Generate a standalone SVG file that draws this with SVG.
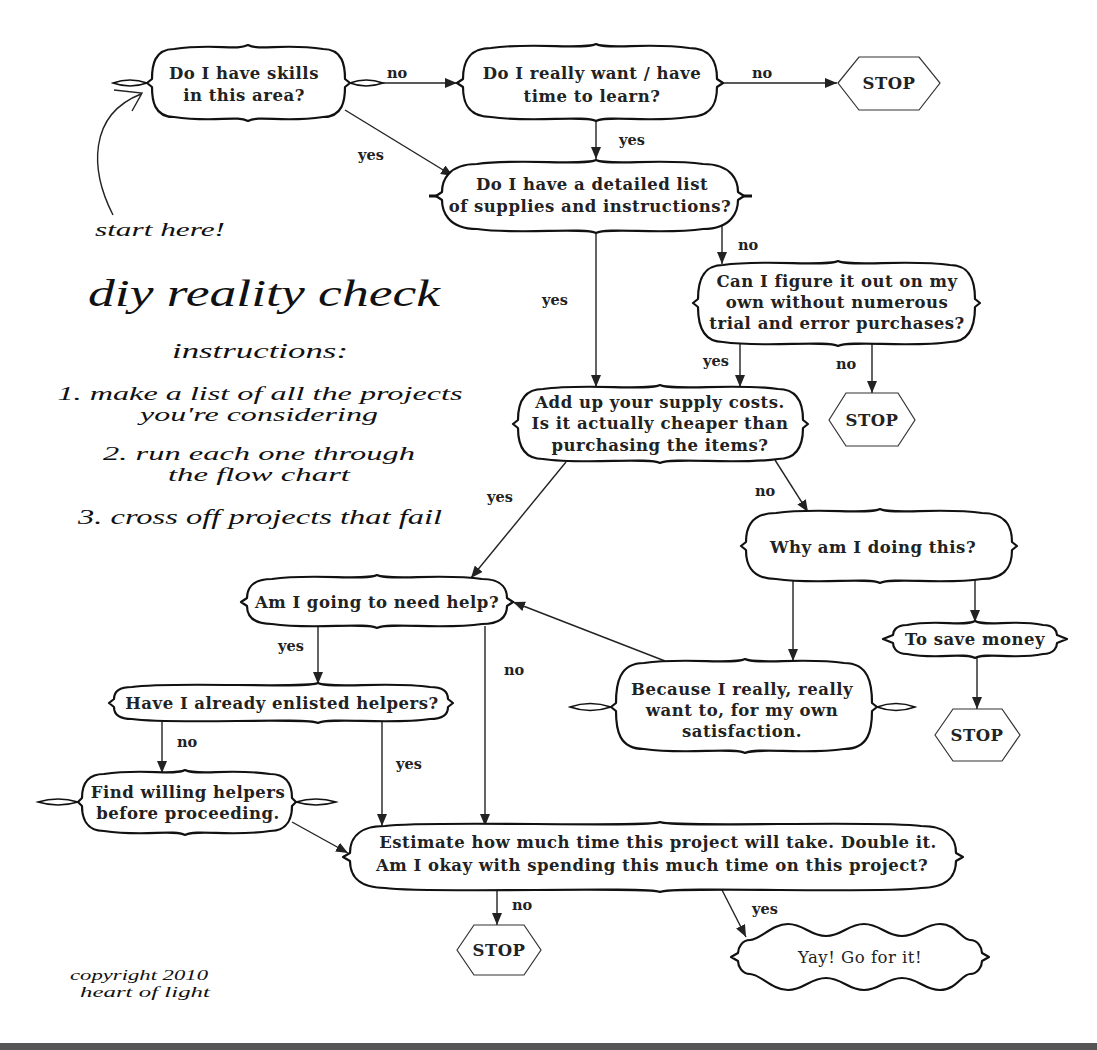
<svg xmlns="http://www.w3.org/2000/svg" width="1097" height="1050" viewBox="0 0 1097 1050">
<defs>
<style>
.node{fill:#fff;stroke:#111;stroke-width:2.2;stroke-linejoin:round}
.orn{fill:#fff;stroke:#111;stroke-width:1.6}
.hex{fill:#fff;stroke:#333;stroke-width:1.2}
.t{font-family:"DejaVu Serif","Liberation Serif",serif;font-size:16.5px;font-weight:bold;letter-spacing:0.5px;fill:#222;text-anchor:middle}
.lbl{font-family:"DejaVu Serif","Liberation Serif",serif;font-size:14.5px;font-weight:bold;fill:#222;text-anchor:middle}
.light{font-weight:normal}
.edge{stroke:#222;stroke-width:1.4;fill:none;marker-end:url(#arr)}
.script{font-family:"Liberation Serif",serif;font-style:italic;fill:#111;text-anchor:middle}
</style>
<marker id="arr" viewBox="0 0 12 10" refX="12" refY="5" markerWidth="12" markerHeight="10" markerUnits="userSpaceOnUse" orient="auto">
<path d="M0,0 L12,5 L0,10 Z" fill="#222"/>
</marker>
</defs>
<rect x="0" y="0" width="1097" height="1050" fill="#fff"/>
<rect x="0" y="1043" width="1097" height="7" fill="#555"/>

<g id="connectors">
<path class="edge" d="M383,83 L457,83"/>
<path class="edge" d="M723,83 L837,83"/>
<path class="edge" d="M596,121 L596,159"/>
<path class="edge" d="M345,110 L453,176"/>
<path class="edge" d="M596,233 L596,387"/>
<path class="edge" d="M722,226 L722,264"/>
<path class="edge" d="M740,342 L740,387"/>
<path class="edge" d="M872,344 L872,393"/>
<path class="edge" d="M566,462 L471,578"/>
<path class="edge" d="M775,460 L808,512"/>
<path class="edge" d="M793,580 L793,661"/>
<path class="edge" d="M975,580 L975,622"/>
<path class="edge" d="M977,656 L977,709"/>
<path class="edge" d="M665,661 L513,602"/>
<path class="edge" d="M318,626 L318,684"/>
<path class="edge" d="M485,626 L485,826"/>
<path class="edge" d="M162,721 L162,773"/>
<path class="edge" d="M382,720 L382,826"/>
<path class="edge" d="M292,822 L348,853"/>
<path class="edge" d="M497,890 L497,925"/>
<path class="edge" d="M722,890 L746,937"/>
<path d="M113,215 C90,170 88,115 141,94 M114,90 L142,93 L132,111" fill="none" stroke="#222" stroke-width="1.4"/>
<text class="lbl" x="397" y="78">no</text>
<text class="lbl" x="762" y="78">no</text>
<text class="lbl" x="632" y="145">yes</text>
<text class="lbl" x="371" y="160">yes</text>
<text class="lbl" x="748" y="250">no</text>
<text class="lbl" x="555" y="305">yes</text>
<text class="lbl" x="716" y="366">yes</text>
<text class="lbl" x="846" y="369">no</text>
<text class="lbl" x="500" y="502">yes</text>
<text class="lbl" x="765" y="496">no</text>
<text class="lbl" x="291" y="651">yes</text>
<text class="lbl" x="514" y="675">no</text>
<text class="lbl" x="187" y="747">no</text>
<text class="lbl" x="409" y="769">yes</text>
<text class="lbl" x="522" y="910">no</text>
<text class="lbl" x="765" y="914">yes</text>
</g>

<g id="n1">
<path class="orn" d="M113,83 Q130,77 147,83 Q130,89 113,83 Z"/>
<path class="orn" d="M350,83 Q366,77 383,83 Q366,89 350,83 Z"/>
<path class="node" d="M174,49 C214,43 236,51 248,45 C260,51 283,43 323,49 C343,49 345,66 345,79 L350,83 L345,87 C345,100 343,117 323,117 C283,123 260,115 248,121 C236,115 214,123 174,117 C154,117 152,100 152,87 L147,83 L152,79 C152,66 154,49 174,49 Z"/>
<text class="t" x="244" y="79">Do I have skills</text>
<text class="t" x="244" y="101">in this area?</text>
</g>

<g id="n2">
<path class="node" d="M491,48 C531,42 584,50 596,44 C608,50 649,42 689,48 C714,48 717,66 717,79 L723,83 L717,87 C717,100 714,117 689,117 C649,123 608,115 596,121 C584,115 531,123 491,117 C466,117 463,100 463,87 L457,83 L463,79 C463,66 466,48 491,48 Z"/>
<text class="t" x="592" y="79">Do I really want / have</text>
<text class="t" x="592" y="102">time to learn?</text>
</g>

<g id="stop1">
<polygon class="hex" points="838,83 859,57 919,57 940,83 919,110 859,110"/>
<text class="t" x="889" y="89">STOP</text>
</g>

<g id="n3">
<path d="M429,196 L437,196 M743,196 L752,196" stroke="#111" stroke-width="3"/>
<path class="node" d="M477,164 C517,158 584,166 596,160 C608,166 663,158 703,164 C733,164 738,182 738,192 L744,196 L738,200 C738,210 733,229 703,229 C663,235 608,227 596,233 C584,227 517,235 477,229 C447,229 442,210 442,200 L436,196 L442,192 C442,182 447,164 477,164 Z"/>
<text class="t" x="592" y="190">Do I have a detailed list</text>
<text class="t" x="590" y="212">of supplies and instructions?</text>
</g>

<g id="n4">
<path class="node" d="M723,265 C763,259 826,267 838,261 C850,267 910,259 950,265 C972,265 975,284 975,299 L980,303 L975,307 C975,322 972,342 950,342 C910,348 850,340 838,346 C826,340 763,348 723,342 C701,342 698,322 698,307 L693,303 L698,299 C698,284 701,265 723,265 Z"/>
<text class="t" x="837" y="287">Can I figure it out on my</text>
<text class="t" x="837" y="308">own without numerous</text>
<text class="t" x="837" y="329">trial and error purchases?</text>
</g>

<g id="stop2">
<polygon class="hex" points="829,420 846,393 898,393 915,420 898,446 846,446"/>
<text class="t" x="872" y="426">STOP</text>
</g>

<g id="n5">
<path class="node" d="M543,389 C583,383 648,391 660,385 C672,391 738,383 778,389 C800,389 803,407 803,420 L808,424 L803,428 C803,441 800,459 778,459 C738,465 672,457 660,463 C648,457 583,465 543,459 C521,459 518,441 518,428 L513,424 L518,420 C518,407 521,389 543,389 Z"/>
<text class="t" x="660" y="408">Add up your supply costs.</text>
<text class="t" x="660" y="429">Is it actually cheaper than</text>
<text class="t" x="660" y="451">purchasing the items?</text>
</g>

<g id="n6">
<path class="node" d="M776,513 C816,507 868,515 880,509 C892,515 942,507 982,513 C1009,513 1012,530 1012,542 L1017,546 L1012,550 C1012,562 1009,579 982,579 C942,585 892,577 880,583 C868,577 816,585 776,579 C749,579 746,562 746,550 L741,546 L746,542 C746,530 749,513 776,513 Z"/>
<text class="t" x="873" y="553">Why am I doing this?</text>
</g>

<g id="n7">
<path class="node" d="M907,625 C937,619 963,627 975,621 C987,627 1013,619 1043,625 C1055,625 1057,632 1057,635 L1067,639 L1057,643 C1057,646 1055,654 1043,654 C1013,660 987,652 975,658 C963,652 937,660 907,654 C895,654 893,646 893,643 L883,639 L893,635 C893,632 895,625 907,625 Z"/>
<text class="t" x="975" y="645">To save money</text>
</g>

<g id="stop3">
<polygon class="hex" points="935,735 953,709 1002,709 1020,735 1002,761 953,761"/>
<text class="t" x="977" y="741">STOP</text>
</g>

<g id="n8">
<path class="node" d="M272,579 C312,573 365,581 377,575 C389,581 442,573 482,579 C504,579 507,591 507,598 L513,602 L507,606 C507,613 504,624 482,624 C442,630 389,622 377,628 C365,622 312,630 272,624 C250,624 247,613 247,606 L241,602 L247,598 C247,591 250,579 272,579 Z"/>
<text class="t" x="377" y="608">Am I going to need help?</text>
</g>

<g id="n9">
<path class="orn" d="M570,707 Q590,700 611,707 Q590,714 570,707 Z"/>
<path class="orn" d="M877,707 Q896,700 915,707 Q896,714 877,707 Z"/>
<path class="node" d="M644,663 C684,657 733,665 745,659 C757,665 804,657 844,663 C869,663 872,684 872,703 L877,707 L872,711 C872,730 869,749 844,749 C804,755 757,747 745,753 C733,747 684,755 644,749 C619,749 616,730 616,711 L611,707 L616,703 C616,684 619,663 644,663 Z"/>
<text class="t" x="742" y="695">Because I really, really</text>
<text class="t" x="742" y="716">want to, for my own</text>
<text class="t" x="742" y="737">satisfaction.</text>
</g>

<g id="n10">
<path class="node" d="M132,687 C172,681 306,689 318,683 C330,689 390,681 430,687 C446,687 448,694 448,699 L453,703 L448,707 C448,712 446,719 430,719 C390,725 330,717 318,723 C306,717 172,725 132,719 C116,719 114,712 114,707 L109,703 L114,699 C114,694 116,687 132,687 Z"/>
<text class="t" x="282" y="709">Have I already enlisted helpers?</text>
</g>

<g id="n11">
<path class="orn" d="M38,802 Q58,796 78,802 Q58,808 38,802 Z"/>
<path class="orn" d="M296,802 Q316,796 336,802 Q316,808 296,802 Z"/>
<path class="node" d="M104,774 C144,768 173,776 185,770 C197,776 230,768 270,774 C289,774 292,788 292,798 L296,802 L292,806 C292,816 289,831 270,831 C230,837 197,829 185,835 C173,829 144,837 104,831 C85,831 82,816 82,806 L78,802 L82,798 C82,788 85,774 104,774 Z"/>
<text class="t" x="188" y="798">Find willing helpers</text>
<text class="t" x="188" y="819">before proceeding.</text>
</g>

<g id="n12">
<path class="node" d="M385,826 C425,820 648,828 660,822 C672,828 881,820 921,826 C951,826 956,842 956,853 L963,857 L956,861 C956,872 951,888 921,888 C881,894 672,886 660,892 C648,886 425,894 385,888 C355,888 350,872 350,861 L343,857 L350,853 C350,842 355,826 385,826 Z"/>
<text class="t" x="658" y="848">Estimate how much time this project will take. Double it.</text>
<text class="t" x="652" y="871">Am I okay with spending this much time on this project?</text>
</g>

<g id="stop4">
<polygon class="hex" points="457,950 474,925 524,925 541,950 524,975 474,975"/>
<text class="t" x="499" y="956">STOP</text>
</g>

<g id="n13">
<path class="node" d="M750,940 C760,940 772,924 788,924 C804,924 810,936 826,936 C842,936 848,924 864,924 C880,924 886,936 902,936 C918,936 924,924 940,924 C956,924 962,940 970,940 C978,940 982,948 982,953 L989,957 L982,961 C982,966 978,974 970,974 C962,974 956,990 940,990 C924,990 918,978 902,978 C886,978 880,990 864,990 C848,990 842,978 826,978 C810,978 804,990 788,990 C772,990 760,974 750,974 C742,974 738,966 738,961 L731,957 L738,953 C738,948 742,940 750,940 Z"/>
<text class="t light" x="860" y="963">Yay! Go for it!</text>
</g>

<g id="notes">
<text class="script" x="160" y="236" font-size="18" textLength="130" lengthAdjust="spacingAndGlyphs">start here!</text>
<text class="script" x="264" y="306" font-size="38" textLength="352" lengthAdjust="spacingAndGlyphs">diy reality check</text>
<text class="script" x="260" y="358" font-size="21" textLength="176" lengthAdjust="spacingAndGlyphs">instructions:</text>
<text class="script" x="260" y="400" font-size="19" textLength="405" lengthAdjust="spacingAndGlyphs">1. make a list of all the projects</text>
<text class="script" x="259" y="421" font-size="19" textLength="238" lengthAdjust="spacingAndGlyphs">you're considering</text>
<text class="script" x="259" y="460" font-size="19" textLength="312" lengthAdjust="spacingAndGlyphs">2. run each one through</text>
<text class="script" x="259" y="481" font-size="19" textLength="182" lengthAdjust="spacingAndGlyphs">the flow chart</text>
<text class="script" x="260" y="524" font-size="20" textLength="364" lengthAdjust="spacingAndGlyphs">3. cross off projects that fail</text>
<text class="script" x="139" y="980" font-size="15" textLength="138" lengthAdjust="spacingAndGlyphs">copyright 2010</text>
<text class="script" x="145" y="997" font-size="15" textLength="130" lengthAdjust="spacingAndGlyphs">heart of light</text>
</g>
</svg>
